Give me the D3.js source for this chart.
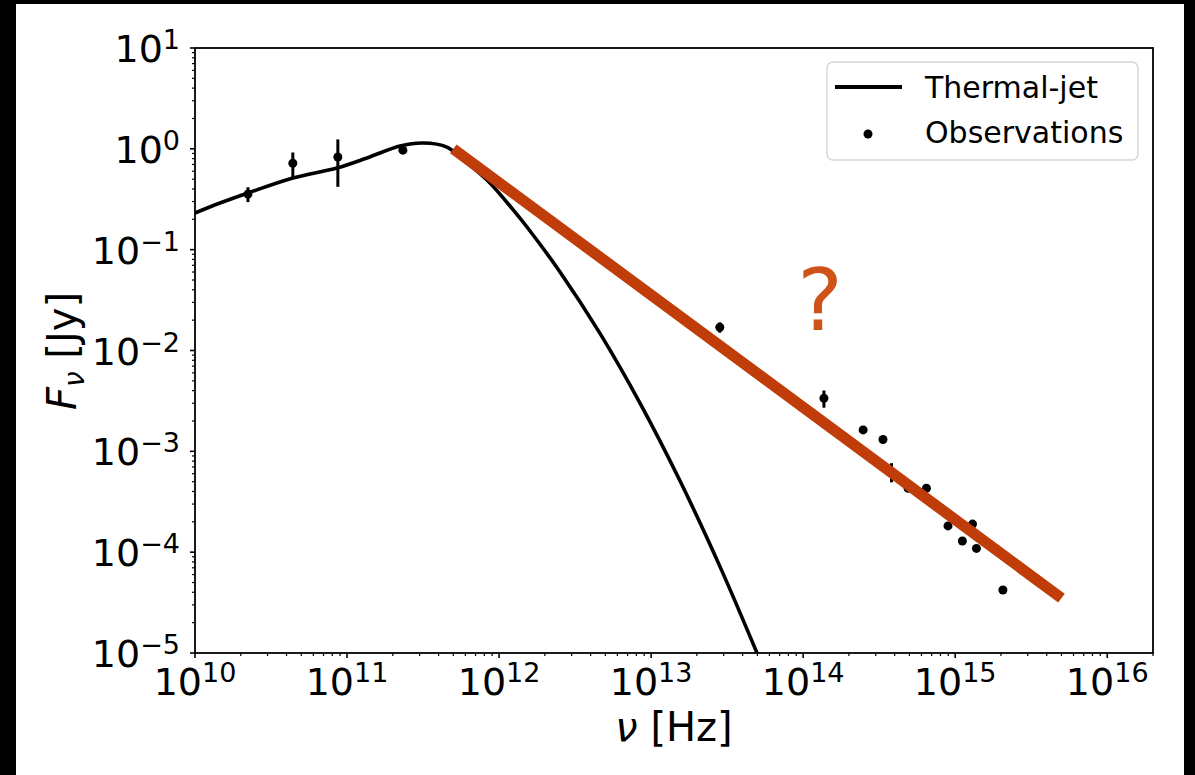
<!DOCTYPE html>
<html lang="en">
<head>
    <meta charset="UTF-8">
    <title></title>
	<script src="https://d3js.org/d3.v7.min.js"></script>
	<style>
		body{margin:0;background:#000;}
		text{font-family:"DejaVu Sans",sans-serif;}
	</style>
</head>
<body>
	<svg width="1195" height="775" id="drawing_pad"></svg>
	<script>
	// thermal jet model
	const jetFreq = [1e10,1.46e10,2.23e10,4.41e10,8.59e10,1.35e11,2.23e11,3.16e11,4.54e11,5.52e11,8.33e11,1.235e12,1.526e12,2.516e12,4.61e12,8.45e12,1.548e13,2.838e13,4.97e13];
	const jetFlux = [0.231,0.29,0.365,0.514,0.646,0.811,1.067,1.143,1.042,0.83,0.4908,0.2496,0.1678,0.06016,0.01477,3.008e-3,5.1e-4,7.19e-5,1e-5];

	// observations
	const obsFreq = [2.23e10,4.4e10,8.7e10,2.33e11,2.83e13,1.37e14,2.48e14,3.35e14,3.81e14,4.9e14,6.47e14,8.97e14,1.115e15,1.3e15,1.38e15,2.06e15];
	const obsFlux = [0.356,0.72,0.83,0.97,0.017,3.36e-3,1.63e-3,1.31e-3,6.28e-4,4.3e-4,4.3e-4,1.82e-4,1.29e-4,1.9e-4,1.09e-4,4.22e-5];
	const obsErr  = [0.06,0.2,0.41,0.03,0.002,6.5e-4,0,0,1.35e-4,0,0,0,0,0,0,0];

	// power law guess (red)
	const plFreq = [5e11,5e15];
	const plFlux = [1.0,3.5e-5];

	const xTicks = [1e10,1e11,1e12,1e13,1e14,1e15,1e16];
	const xTickExp = ["10","11","12","13","14","15","16"];
	const yTicks = [1e1,1e0,1e-1,1e-2,1e-3,1e-4,1e-5];
	const yTickExp = ["1","0","\u22121","\u22122","\u22123","\u22124","\u22125"];

	let svg = d3.select("#drawing_pad");
	svg.append("rect").attr("x",16).attr("y",4).attr("width",1168).attr("height",771).style("fill","#fff");

	let x = d3.scaleLog().domain([1e10,2e16]).range([195,1153]);
	let y = d3.scaleLog().domain([1e-5,10]).range([653,48]);

	svg.append("clipPath").attr("id","plotclip").append("rect")
		.attr("x",195).attr("y",48).attr("width",958).attr("height",605);

	// minor ticks
	let minorX=[], minorY=[];
	for(let e=10;e<=16;e++) for(let k=2;k<=9;k++){ let v=k*Math.pow(10,e); if(v<=2e16) minorX.push(v); }
	for(let e=-5;e<=0;e++) for(let k=2;k<=9;k++){ minorY.push(k*Math.pow(10,e)); }

	svg.selectAll(".mx").data(minorX).enter().append("line")
		.attr("x1",d=>x(d)).attr("x2",d=>x(d)).attr("y1",653).attr("y2",656)
		.style("stroke","#000").style("stroke-width",1.2);
	svg.selectAll(".my").data(minorY).enter().append("line")
		.attr("y1",d=>y(d)).attr("y2",d=>y(d)).attr("x1",195).attr("x2",192)
		.style("stroke","#000").style("stroke-width",1.2);
	svg.selectAll(".Mx").data(xTicks).enter().append("line")
		.attr("x1",d=>x(d)).attr("x2",d=>x(d)).attr("y1",653).attr("y2",658)
		.style("stroke","#000").style("stroke-width",1.6);
	svg.selectAll(".My").data(yTicks).enter().append("line")
		.attr("y1",d=>y(d)).attr("y2",d=>y(d)).attr("x1",195).attr("x2",190)
		.style("stroke","#000").style("stroke-width",1.6);

	// tick labels
	let xl = svg.selectAll(".xl").data(xTicks).enter().append("text")
		.attr("x",d=>x(d)).attr("y",695).attr("text-anchor","middle")
		.style("font-size","38px").style("fill","#000");
	xl.append("tspan").text("10");
	xl.append("tspan").attr("dy",-13).style("font-size","27px").text((d,i)=>xTickExp[i]);

	let yl = svg.selectAll(".yl").data(yTicks).enter().append("text")
		.attr("x",180).attr("y",d=>y(d)+14).attr("text-anchor","end")
		.style("font-size","38px").style("fill","#000");
	yl.append("tspan").text("10");
	yl.append("tspan").attr("dy",-13).style("font-size","27px").text((d,i)=>yTickExp[i]);

	// axis labels
	let xlab = svg.append("text").attr("x",674).attr("y",741).attr("text-anchor","middle")
		.style("font-size","40px");
	xlab.append("tspan").style("font-style","italic").text("\u03bd");
	xlab.append("tspan").text(" [Hz]");

	let ylab = svg.append("text").attr("transform","translate(76,351) rotate(-90)")
		.attr("text-anchor","middle").style("font-size","40px");
	ylab.append("tspan").style("font-style","italic").text("F");
	ylab.append("tspan").attr("dy",8).style("font-style","italic").style("font-size","28px").text("\u03bd");
	ylab.append("tspan").attr("dy",-8).text(" [Jy]");

	let plot = svg.append("g").attr("clip-path","url(#plotclip)");

	// model curve
	let line = d3.line().x(d=>x(d[0])).y(d=>y(d[1])).curve(d3.curveCatmullRom);
	plot.append("path").datum(jetFreq.map((f,i)=>[f,jetFlux[i]]))
		.attr("d",line).style("fill","none").style("stroke","#000").style("stroke-width",3.6);

	// observations with error bars
	let obs = obsFreq.map((f,i)=>({f:f,v:obsFlux[i],e:obsErr[i]}));
	plot.selectAll(".err").data(obs.filter(d=>d.e>0)).enter().append("line")
		.attr("x1",d=>x(d.f)).attr("x2",d=>x(d.f))
		.attr("y1",d=>y(d.v+d.e)).attr("y2",d=>y(Math.max(d.v-d.e,1e-6)))
		.style("stroke","#000").style("stroke-width",3);
	plot.selectAll(".obs").data(obs).enter().append("circle")
		.attr("cx",d=>x(d.f)).attr("cy",d=>y(d.v)).attr("r",4.5).style("fill","#000");

	// red power law
	plot.append("line")
		.attr("x1",x(plFreq[0])).attr("y1",y(plFlux[0]))
		.attr("x2",x(plFreq[1])).attr("y2",y(plFlux[1]))
		.style("stroke","#c03c08").style("stroke-width",11);

	svg.append("text").attr("x",820).attr("y",330).attr("text-anchor","middle")
		.style("font-size","86px").style("fill","#cf5218").text("?");

	// frame
	svg.append("rect").attr("x",195).attr("y",48).attr("width",958).attr("height",605)
		.style("fill","none").style("stroke","#000").style("stroke-width",1.8);

	// legend
	let leg = svg.append("g");
	leg.append("rect").attr("x",827).attr("y",62).attr("width",311).attr("height",98).attr("rx",6)
		.style("fill","#fff").style("fill-opacity",0.8).style("stroke","#d6d6d6").style("stroke-width",1.5);
	leg.append("line").attr("x1",835).attr("x2",902).attr("y1",87).attr("y2",87)
		.style("stroke","#000").style("stroke-width",4);
	leg.append("circle").attr("cx",868).attr("cy",134).attr("r",4.5).style("fill","#000");
	leg.append("text").attr("x",925).attr("y",98).style("font-size","30px").text("Thermal-jet");
	leg.append("text").attr("x",925).attr("y",143).style("font-size","30px").text("Observations");
	</script>
</body>
</html>
